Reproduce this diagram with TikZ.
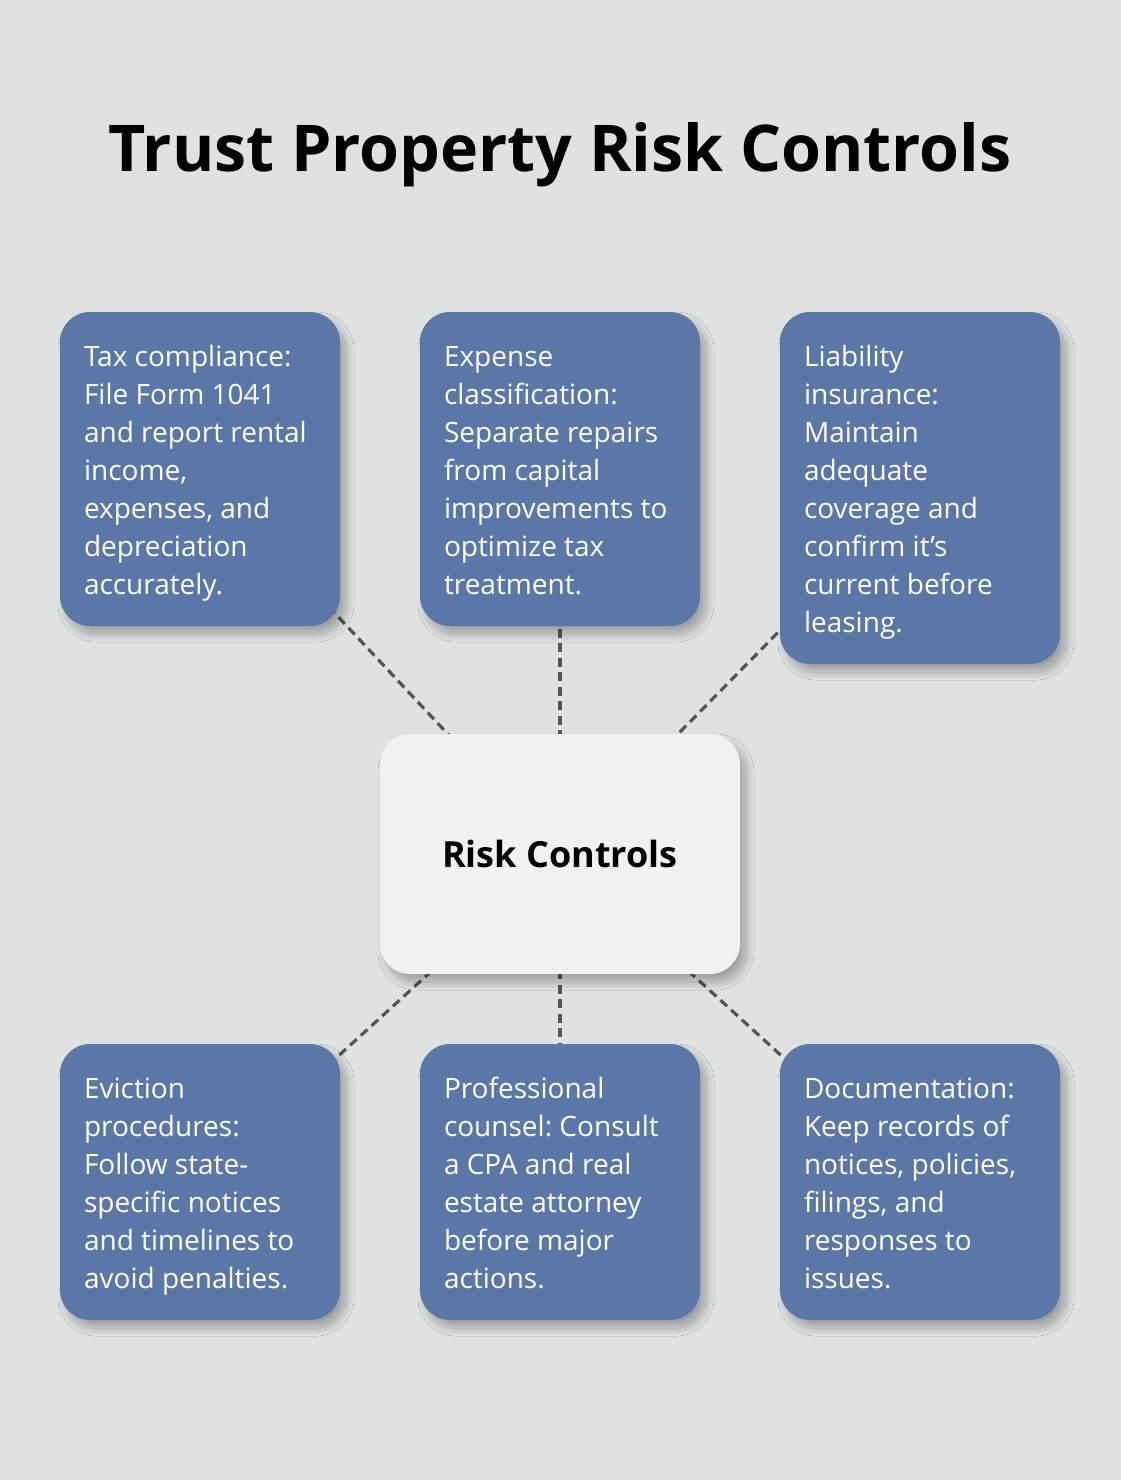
\documentclass[tikz,border=0pt]{standalone}
\usepackage{fontspec}
\setmainfont{Open Sans}
\usetikzlibrary{shadows.blur}
\definecolor{bg}{HTML}{E0E2E1}
\definecolor{boxblue}{HTML}{5B77A8}
\definecolor{centerfill}{HTML}{F0F1F3}
\definecolor{dashgray}{HTML}{555555}
\pgfdeclarelayer{background}
\pgfsetlayers{background,main}
\frenchspacing
\begin{document}
\begin{tikzpicture}[x=1pt,y=-1pt,
  shade/.style={blur shadow={shadow xshift=6pt, shadow yshift=-8pt, shadow blur radius=8pt, shadow blur steps=24, shadow opacity=30}},
  box/.style={rectangle, rounded corners=30pt, fill=boxblue, inner sep=0pt, minimum width=280pt, shade},
  hub/.style={rectangle, rounded corners=30pt, fill=centerfill, inner sep=0pt, minimum width=360pt, minimum height=240pt, shade, font=\fontsize{36}{44}\selectfont\bfseries},
  txt/.style={anchor=north west, align=left, text=white, inner sep=0pt, font=\fontsize{28}{38}\selectfont},
  link/.style={draw=dashgray, line width=3.2pt, dash pattern=on 9pt off 5.5pt}]
\useasboundingbox (0,0) rectangle (1120,1480);
\node[anchor=base, inner sep=0pt, font=\fontsize{64.5}{78}\selectfont\bfseries] (title) at (560,171) {Trust Property Risk Controls};
\node[hub] (c) at (560,854) {Risk Controls};
\node[box, minimum height=314pt] (b1) at (200,469) {};
\node[box, minimum height=314pt] (b2) at (560,469) {};
\node[box, minimum height=352pt] (b3) at (920,488) {};
\node[box, minimum height=276pt] (b4) at (200,1182) {};
\node[box, minimum height=276pt] (b5) at (560,1182) {};
\node[box, minimum height=276pt] (b6) at (920,1182) {};
\node[txt] (t1) at ([shift={(24,26)}]b1.north west) {\rule{0pt}{28pt}Tax compliance:\\File Form 1041\\and report rental\\income,\\expenses, and\\depreciation\\accurately.};
\node[txt] (t2) at ([shift={(24,26)}]b2.north west) {\rule{0pt}{28pt}Expense\\classification:\\Separate repairs\\from capital\\improvements to\\optimize tax\\treatment.};
\node[txt] (t3) at ([shift={(24,26)}]b3.north west) {\rule{0pt}{28pt}Liability\\insurance:\\Maintain\\adequate\\coverage and\\confirm it’s\\current before\\leasing.};
\node[txt] (t4) at ([shift={(24,26)}]b4.north west) {\rule{0pt}{28pt}Eviction\\procedures:\\Follow state-\\specific notices\\and timelines to\\avoid penalties.};
\node[txt] (t5) at ([shift={(24,26)}]b5.north west) {\rule{0pt}{28pt}Professional\\counsel: Consult\\a CPA and real\\estate attorney\\before major\\actions.};
\node[txt] (t6) at ([shift={(24,26)}]b6.north west) {\rule{0pt}{28pt}Documentation:\\Keep records of\\notices, policies,\\filings, and\\responses to\\issues.};
\begin{pgfonlayer}{background}
\fill[bg] (-20,-20) rectangle (1140,1500);
\foreach \b in {b1,b2,b3,b4,b5,b6}
  \draw[link] (\b.center) -- (c.center);
\end{pgfonlayer}
\end{tikzpicture}
\end{document}
